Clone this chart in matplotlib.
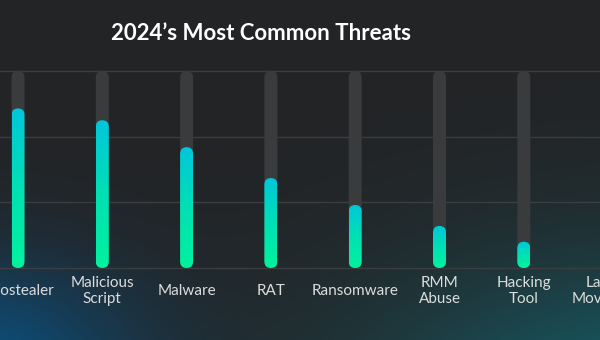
import numpy as np
import matplotlib
matplotlib.use("Agg")
import matplotlib.pyplot as plt
from matplotlib.patches import FancyBboxPatch
from matplotlib.colors import LinearSegmentedColormap
from matplotlib.transforms import blended_transform_factory

# ---- data ----
categories = ["Infostealer", "Malicious\nScript", "Malware", "RAT", "Ransomware",
              "RMM\nAbuse", "Hacking\nTool", "Lateral\nMovement"]
values = [24.3, 22.5, 18.4, 13.7, 9.6, 6.4, 4.0, 2.5]
y_max = 30
y_ticks = [0, 10, 20, 30]
title = "2024\u2019s Most Common Threats"

# ---- style ----
W, H = 600, 340
BG = np.array([0x23, 0x24, 0x26]) / 255
BLUE = np.array([0x0c, 0x4e, 0x7a]) / 255
TEAL = np.array([0x14, 0x60, 0x6a]) / 255
TRACK = "#3a3b3d"
GRID = "#3c3d3f"
TXT = "#dcdcdc"

plt.rcParams['font.family'] = ['Lato', 'DejaVu Sans']

fig = plt.figure(figsize=(W / 100, H / 100), dpi=100)
fig.patch.set_facecolor(BG)

# background glow
yy, xx = np.mgrid[0:H, 0:W].astype(float)
w_blue = np.exp(-(((xx + 30) / 170) ** 2 + ((yy - 370) / 110) ** 2))
w_teal = np.exp(-(((xx - 660) / 300) ** 2 + ((yy - 430) / 170) ** 2))
img = BG[None, None, :] * np.ones((H, W, 1))
img = img * (1 - w_blue[..., None]) + BLUE * w_blue[..., None]
img = img * (1 - w_teal[..., None]) + TEAL * w_teal[..., None]
bg_ax = fig.add_axes([0, 0, 1, 1])
bg_ax.imshow(np.clip(img, 0, 1), extent=[0, W, H, 0], aspect='auto', zorder=0)
bg_ax.set_axis_off()

# main axes
base_px, top_px, x0_px, step_px = 268, 71, 18, 84.3
ax = fig.add_axes([0, (H - base_px) / H, 1, (base_px - top_px) / H])
xlim = (-x0_px / step_px, (W - x0_px) / step_px)
ax.set_xlim(*xlim)
ax.set_ylim(0, y_max)
ax.patch.set_alpha(0)
ax.set_axis_off()

for t in y_ticks:
    ax.axhline(t, color=GRID, lw=1.0, zorder=1, clip_on=False)

bw = 13 / step_px
px_per_x = step_px
px_per_y = (base_px - top_px) / y_max
aspect = px_per_x / px_per_y

cmap = LinearSegmentedColormap.from_list("g", ["#00f29e", "#00e0b4", "#00c6da"])
grad = np.linspace(0, 1, 256)[:, None]

for i, v in enumerate(values):
    track = FancyBboxPatch((i - bw / 2, 0), bw, y_max,
                           boxstyle=f"round,pad=0,rounding_size={bw / 2}",
                           mutation_aspect=aspect, fc=TRACK, ec='none', zorder=2)
    ax.add_patch(track)
    bar = FancyBboxPatch((i - bw / 2, 0), bw, v,
                         boxstyle=f"round,pad=0,rounding_size={bw / 2}",
                         mutation_aspect=aspect, fc='none', ec='none', zorder=3)
    ax.add_patch(bar)
    im = ax.imshow(grad, extent=[i - bw / 2, i + bw / 2, 0, v], origin='lower',
                   cmap=cmap, aspect='auto', zorder=3, interpolation='bicubic')
    im.set_clip_path(bar)

ax.set_xlim(*xlim)
ax.set_ylim(0, y_max)

trans = blended_transform_factory(ax.transData, fig.transFigure)
for i, c in enumerate(categories):
    ax.text(i, (H - 291) / H, c, transform=trans, ha='center', va='center',
            multialignment='center', color=TXT, fontsize=11, linespacing=1.1,
            clip_on=False)

fig.text(261 / W, (H - 34) / H, title, ha='center', va='center', color='white',
         fontsize=16, fontweight='bold')

fig.savefig("out.png", dpi=100, facecolor=fig.get_facecolor())
